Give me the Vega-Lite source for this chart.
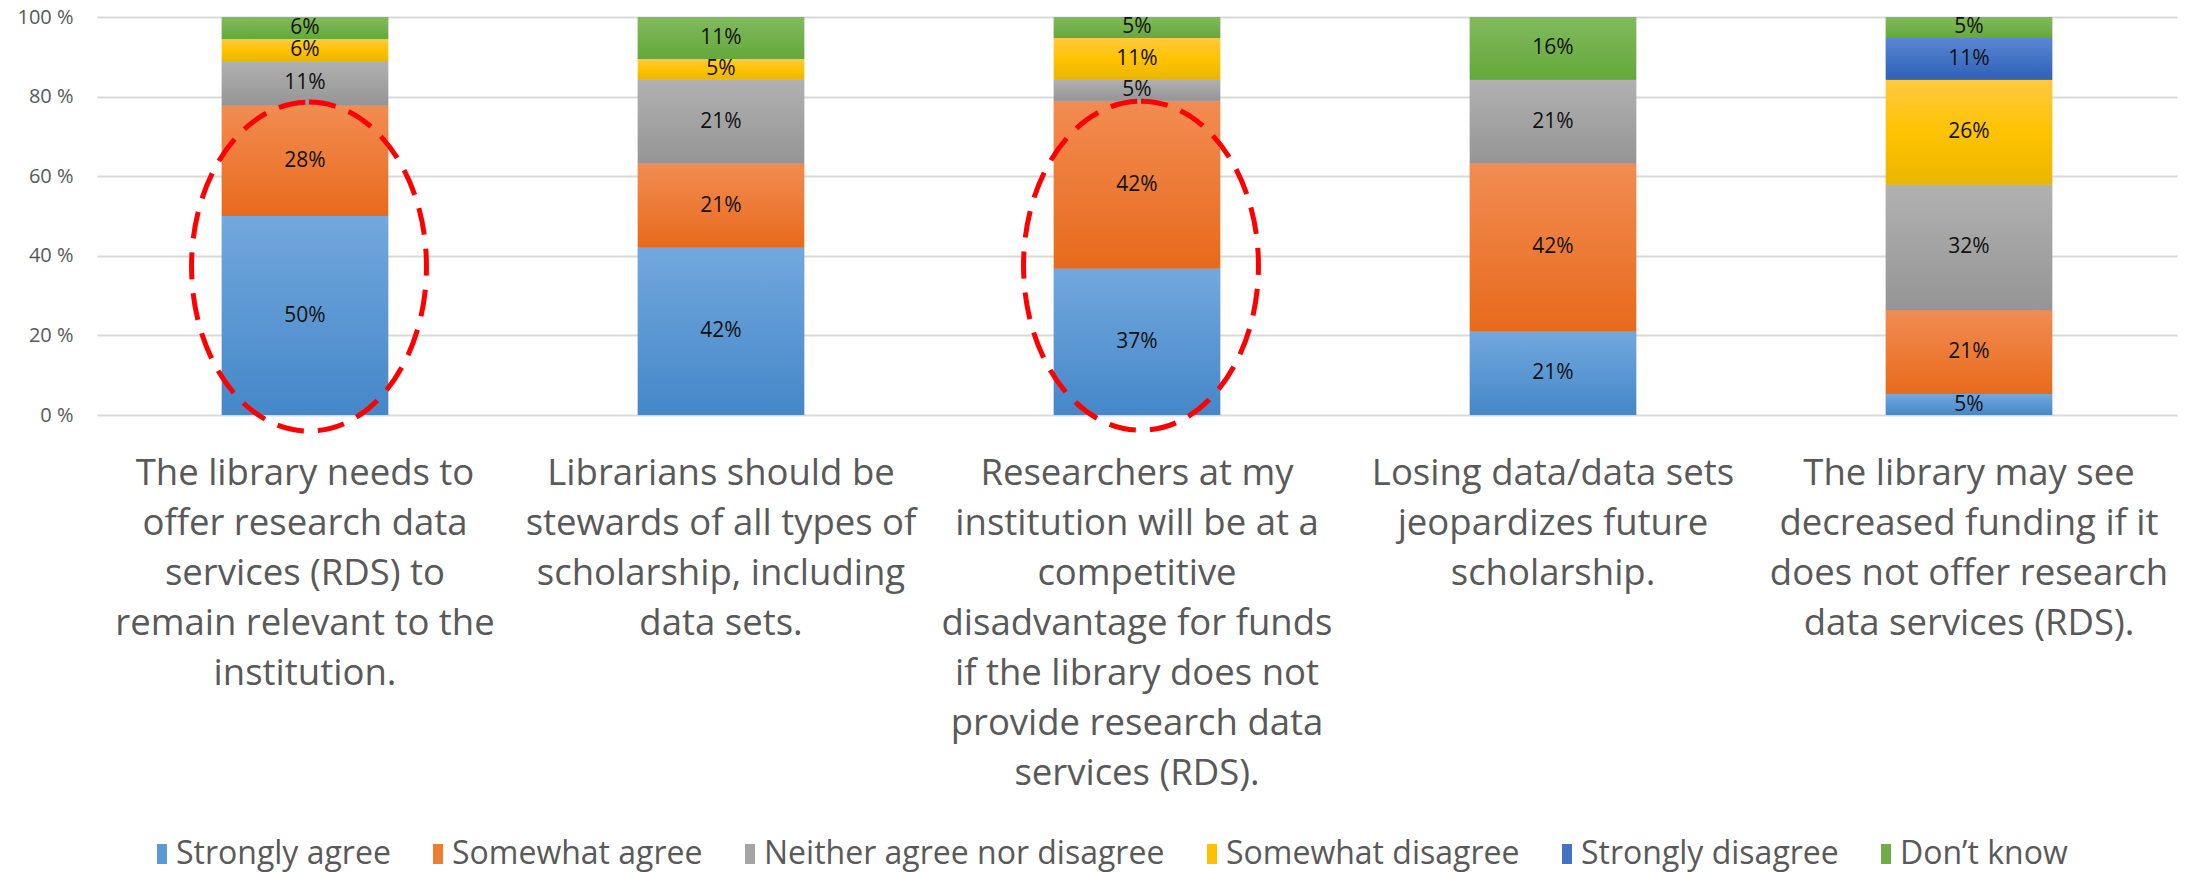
{
  "$schema": "https://vega.github.io/schema/vega-lite/v6.json",
  "width": 2080,
  "height": 398,
  "autosize": {"type": "none"},
  "padding": {"left": 97, "top": 17, "right": 11, "bottom": 457},
  "background": "white",
  "config": {"view": {"stroke": null}, "font": "Open Sans"},
  "layer": [
    {
      "data": {
        "values": [
          {"q": "The library needs to|offer research data|services (RDS) to|remain relevant to the|institution.", "r": "Strongly agree", "k": 1, "v": 0.5},
          {"q": "The library needs to|offer research data|services (RDS) to|remain relevant to the|institution.", "r": "Somewhat agree", "k": 2, "v": 0.2778},
          {"q": "The library needs to|offer research data|services (RDS) to|remain relevant to the|institution.", "r": "Neither agree nor disagree", "k": 3, "v": 0.1111},
          {"q": "The library needs to|offer research data|services (RDS) to|remain relevant to the|institution.", "r": "Somewhat disagree", "k": 4, "v": 0.0556},
          {"q": "The library needs to|offer research data|services (RDS) to|remain relevant to the|institution.", "r": "Don’t know", "k": 6, "v": 0.0555},
          {"q": "Librarians should be|stewards of all types of|scholarship, including|data sets.", "r": "Strongly agree", "k": 1, "v": 0.4211},
          {"q": "Librarians should be|stewards of all types of|scholarship, including|data sets.", "r": "Somewhat agree", "k": 2, "v": 0.2105},
          {"q": "Librarians should be|stewards of all types of|scholarship, including|data sets.", "r": "Neither agree nor disagree", "k": 3, "v": 0.2105},
          {"q": "Librarians should be|stewards of all types of|scholarship, including|data sets.", "r": "Somewhat disagree", "k": 4, "v": 0.0526},
          {"q": "Librarians should be|stewards of all types of|scholarship, including|data sets.", "r": "Don’t know", "k": 6, "v": 0.1053},
          {"q": "Researchers at my|institution will be at a|competitive|disadvantage for funds|if the library does not|provide research data|services (RDS).", "r": "Strongly agree", "k": 1, "v": 0.3684},
          {"q": "Researchers at my|institution will be at a|competitive|disadvantage for funds|if the library does not|provide research data|services (RDS).", "r": "Somewhat agree", "k": 2, "v": 0.4211},
          {"q": "Researchers at my|institution will be at a|competitive|disadvantage for funds|if the library does not|provide research data|services (RDS).", "r": "Neither agree nor disagree", "k": 3, "v": 0.0526},
          {"q": "Researchers at my|institution will be at a|competitive|disadvantage for funds|if the library does not|provide research data|services (RDS).", "r": "Somewhat disagree", "k": 4, "v": 0.1053},
          {"q": "Researchers at my|institution will be at a|competitive|disadvantage for funds|if the library does not|provide research data|services (RDS).", "r": "Don’t know", "k": 6, "v": 0.0526},
          {"q": "Losing data/data sets|jeopardizes future|scholarship.", "r": "Strongly agree", "k": 1, "v": 0.2105},
          {"q": "Losing data/data sets|jeopardizes future|scholarship.", "r": "Somewhat agree", "k": 2, "v": 0.4211},
          {"q": "Losing data/data sets|jeopardizes future|scholarship.", "r": "Neither agree nor disagree", "k": 3, "v": 0.2105},
          {"q": "Losing data/data sets|jeopardizes future|scholarship.", "r": "Don’t know", "k": 6, "v": 0.1579},
          {"q": "The library may see|decreased funding if it|does not offer research|data services (RDS).", "r": "Strongly agree", "k": 1, "v": 0.0526},
          {"q": "The library may see|decreased funding if it|does not offer research|data services (RDS).", "r": "Somewhat agree", "k": 2, "v": 0.2105},
          {"q": "The library may see|decreased funding if it|does not offer research|data services (RDS).", "r": "Neither agree nor disagree", "k": 3, "v": 0.3158},
          {"q": "The library may see|decreased funding if it|does not offer research|data services (RDS).", "r": "Somewhat disagree", "k": 4, "v": 0.2632},
          {"q": "The library may see|decreased funding if it|does not offer research|data services (RDS).", "r": "Strongly disagree", "k": 5, "v": 0.1053},
          {"q": "The library may see|decreased funding if it|does not offer research|data services (RDS).", "r": "Don’t know", "k": 6, "v": 0.0526}
        ]
      },
      "layer": [
        {
          "mark": {"type": "bar"},
          "encoding": {
            "x": {
              "field": "q", "type": "nominal", "sort": null,
              "scale": {"paddingInner": 0.6, "paddingOuter": 0.3},
              "axis": {
                "title": null, "labelAngle": 0, "ticks": false, "domain": false,
                "labelExpr": "split(datum.label, '|')",
                "labelFontSize": 36.5, "labelLineHeight": 50, "labelColor": "#595959",
                "labelPadding": 40, "labelLimit": 0, "labelBaseline": "top"
              }
            },
            "y": {
              "field": "v", "type": "quantitative", "stack": "zero",
              "scale": {"domain": [0, 1], "nice": false},
              "axis": {
                "title": null, "values": [0, 0.2, 0.4, 0.6, 0.8, 1],
                "labelExpr": "round(datum.value*100) + ' %'",
                "labelFontSize": 20, "labelColor": "#595959", "labelPadding": 24,
                "ticks": false, "domain": false, "gridColor": "#D9D9D9", "gridWidth": 2
              }
            },
            "color": {
              "field": "r", "type": "nominal",
              "scale": {
                "domain": ["Strongly agree", "Somewhat agree", "Neither agree nor disagree", "Somewhat disagree", "Strongly disagree", "Don’t know"],
                "range": ["#5B9BD5", "#ED7D31", "#A5A5A5", "#FFC000", "#4472C4", "#70AD47"]
              },
              "legend": {
                "title": null, "orient": "none", "legendX": 49, "legendY": 821,
                "direction": "horizontal", "columns": 6,
                "symbolType": "M-0.5,-1H0.5V1H-0.5Z", "symbolSize": 400, "symbolStrokeWidth": 0,
                "labelFontSize": 32, "labelColor": "#595959", "labelOffset": -2,
                "columnPadding": 31, "labelLimit": 0
              }
            },
            "order": {"field": "k", "type": "quantitative"}
          }
        },
        {
          "mark": {"type": "bar"},
          "encoding": {
            "x": {"field": "q", "type": "nominal", "sort": null},
            "y": {"field": "v", "type": "quantitative", "stack": "zero"},
            "order": {"field": "k", "type": "quantitative"},
            "fill": {
              "condition": [
                {"test": "datum.k === 1", "value": {"gradient": "linear", "x1": 0, "y1": 0, "x2": 0, "y2": 1, "stops": [{"offset": 0, "color": "#72A8DD"}, {"offset": 1, "color": "#4587C9"}]}},
                {"test": "datum.k === 2", "value": {"gradient": "linear", "x1": 0, "y1": 0, "x2": 0, "y2": 1, "stops": [{"offset": 0, "color": "#F28C52"}, {"offset": 1, "color": "#E86A1C"}]}},
                {"test": "datum.k === 3", "value": {"gradient": "linear", "x1": 0, "y1": 0, "x2": 0, "y2": 1, "stops": [{"offset": 0, "color": "#B1B1B1"}, {"offset": 1, "color": "#959595"}]}},
                {"test": "datum.k === 4", "value": {"gradient": "linear", "x1": 0, "y1": 0, "x2": 0, "y2": 1, "stops": [{"offset": 0, "color": "#FFC941"}, {"offset": 0.5, "color": "#FFC300"}, {"offset": 1, "color": "#EAB600"}]}},
                {"test": "datum.k === 5", "value": {"gradient": "linear", "x1": 0, "y1": 0, "x2": 0, "y2": 1, "stops": [{"offset": 0, "color": "#5A87D2"}, {"offset": 1, "color": "#2E60B8"}]}}
              ],
              "value": {"gradient": "linear", "x1": 0, "y1": 0, "x2": 0, "y2": 1, "stops": [{"offset": 0, "color": "#82BA5E"}, {"offset": 1, "color": "#64A83A"}]}
            }
          }
        },
        {
          "mark": {"type": "text", "fontSize": 21, "color": "#111111"},
          "encoding": {
            "x": {"field": "q", "type": "nominal", "sort": null},
            "y": {"field": "v", "type": "quantitative", "stack": "zero", "bandPosition": 0.5},
            "text": {"field": "v", "type": "quantitative", "format": ".0%"},
            "order": {"field": "k", "type": "quantitative"}
          }
        }
      ]
    },
    {
      "data": {
        "values": [
          {"q": "The library needs to|offer research data|services (RDS) to|remain relevant to the|institution.", "c": 0.373},
          {"q": "Researchers at my|institution will be at a|competitive|disadvantage for funds|if the library does not|provide research data|services (RDS).", "c": 0.375}
        ]
      },
      "mark": {
        "type": "point",
        "shape": "M0,-1A0.714,1,0,1,1,0,1A0.714,1,0,1,1,0,-1Z",
        "size": 108241, "filled": false, "opacity": 1,
        "stroke": "#FF0000", "strokeWidth": 5, "strokeDash": [27, 14], "xOffset": 4
      },
      "encoding": {
        "x": {"field": "q", "type": "nominal", "sort": null},
        "y": {"field": "c", "type": "quantitative"}
      }
    }
  ]
}
